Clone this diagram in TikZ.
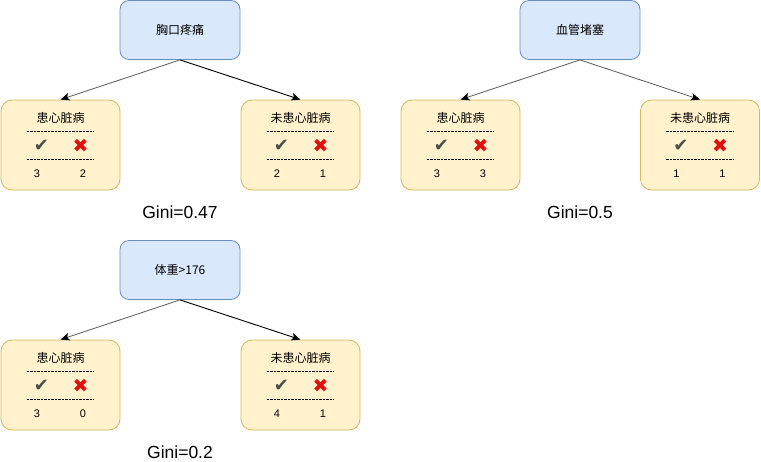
\documentclass[tikz,border=0pt]{standalone}
\usepackage{fontspec}
\setmainfont{Liberation Sans}
\newfontfamily\cjk{Noto Sans CJK SC}
\newfontfamily\symf{DejaVu Sans}
\usetikzlibrary{arrows.meta}
\tikzset{
  rootbox/.style={draw=rootdraw, fill=rootfill, rounded corners=9pt, minimum width=120pt, minimum height=59pt, inner sep=0pt, line width=0.8pt, font=\cjk\fontsize{12}{14}\selectfont},
  leafbox/.style={draw=leafdraw, fill=leaffill, rounded corners=11pt, minimum width=119pt, minimum height=90pt, inner sep=0pt, line width=0.8pt},
  ttl/.style={inner sep=0pt, font=\cjk\fontsize{12}{14}\selectfont},
  num/.style={inner sep=0pt, font=\fontsize{11}{13}\selectfont},
  okmark/.style={inner sep=0pt, text=okgray, font=\symf\fontsize{18}{20}\selectfont},
  nomark/.style={inner sep=0pt, text=nored, font=\symf\fontsize{19}{21}\selectfont},
  sep/.style={line width=0.9pt, dash pattern=on 2.5pt off 1pt},
  gini/.style={inner sep=0pt, font=\fontsize{17.5}{20}\selectfont},
  edgeL/.style={draw=black!65, line width=0.8pt, -{Stealth[length=9pt,width=7.5pt,inset=2pt,color=black]}},
  edgeR/.style={draw=black, line width=0.9pt, -{Stealth[length=9pt,width=7.5pt,inset=2pt]}},
}
\definecolor{rootdraw}{HTML}{6C8EBF}
\definecolor{rootfill}{HTML}{DAE8FC}
\definecolor{leafdraw}{HTML}{D6B656}
\definecolor{leaffill}{HTML}{FFF2CC}
\definecolor{okgray}{HTML}{4D4D4D}
\definecolor{nored}{HTML}{E01010}
\newcommand\leafnode[6]{%
  \node[leafbox] (#1) at (#2,#3) {};
  \begin{scope}[shift={(#2,#3)}]
    \node[ttl] (#1-t) at (0,-27) {#4};
    \coordinate (#1-a1) at (-34,-13.5);
    \coordinate (#1-a2) at (33,-13.5);
    \draw[sep] (#1-a1) -- (#1-a2);
    \node[okmark] (#1-ok) at (-19,1) {✔};
    \node[nomark] (#1-no) at (20,1) {✖};
    \coordinate (#1-b1) at (-34,14.5);
    \coordinate (#1-b2) at (33,14.5);
    \draw[sep] (#1-b1) -- (#1-b2);
    \node[num] (#1-n1) at (-23.5,29) {#5};
    \node[num] (#1-n2) at (22.5,29) {#6};
  \end{scope}}
\begin{document}
\begin{tikzpicture}[x=1pt,y=-1pt]
\useasboundingbox (0,0) rectangle (761,461);
% tree 1
\node[rootbox] (r1) at (180,30) {胸口疼痛};
\leafnode{l1a}{60.5}{145}{患心脏病}{3}{2}
\leafnode{l1b}{300.5}{145}{未患心脏病}{2}{1}
\draw[edgeL] (r1.south) -- (l1a.north);
\draw[edgeR] (r1.south) -- (l1b.north);
\node[gini] (g1) at (180,212) {Gini=0.47};
% tree 2
\node[rootbox] (r2) at (580,30) {血管堵塞};
\leafnode{l2a}{460.5}{145}{患心脏病}{3}{3}
\leafnode{l2b}{700}{145}{未患心脏病}{1}{1}
\draw[edgeL] (r2.south) -- (l2a.north);
\draw[edgeL] (r2.south) -- (l2b.north);
\node[gini] (g2) at (580,212) {Gini=0.5};
% tree 3
\node[rootbox] (r3) at (180,270) {体重>176};
\leafnode{l3a}{60.5}{385}{患心脏病}{3}{0}
\leafnode{l3b}{300.5}{385}{未患心脏病}{4}{1}
\draw[edgeL] (r3.south) -- (l3a.north);
\draw[edgeR] (r3.south) -- (l3b.north);
\node[gini] (g3) at (180,452) {Gini=0.2};
\end{tikzpicture}
\end{document}
